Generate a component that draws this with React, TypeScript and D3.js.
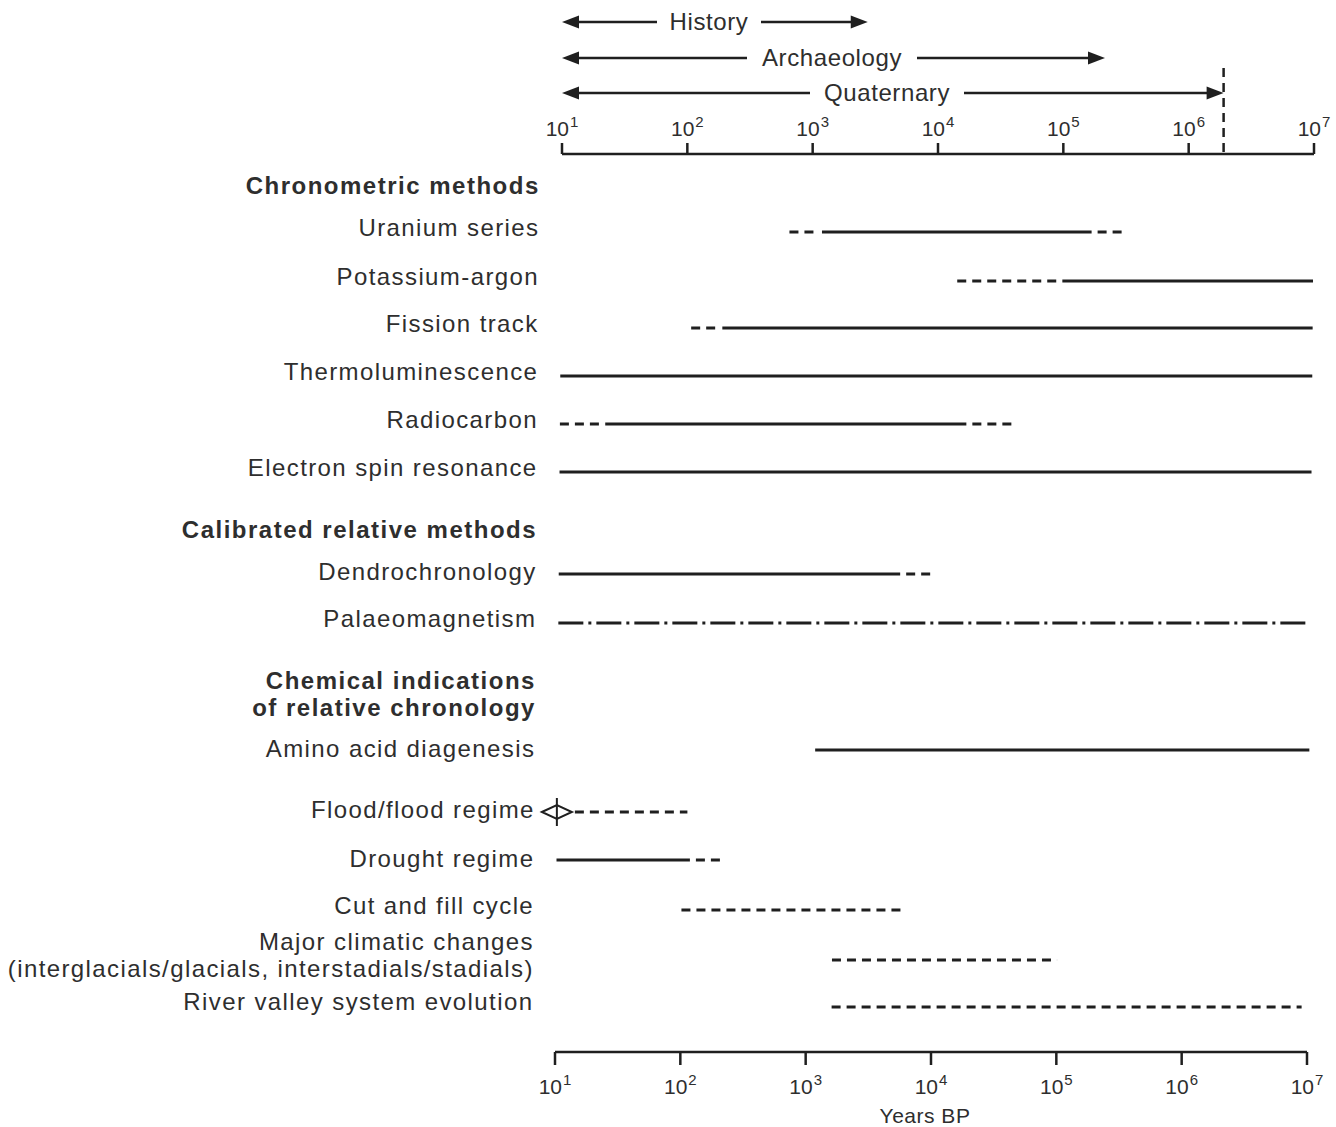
import React from "react";
import * as d3 from "d3";

// ---------- data ----------
const exponents = [1, 2, 3, 4, 5, 6, 7];
const periodNames = ["History", "Archaeology", "Quaternary"];
const periodEnds = [2750, 215000, 1.9e6];
const quaternaryStart = 1.9e6;

const groupHeaders = [
  ["Chronometric methods"],
  ["Calibrated relative methods"],
  ["Chemical indications", "of relative chronology"],
];

const methodLabels = [
  ["Uranium series"],
  ["Potassium-argon"],
  ["Fission track"],
  ["Thermoluminescence"],
  ["Radiocarbon"],
  ["Electron spin resonance"],
  ["Dendrochronology"],
  ["Palaeomagnetism"],
  ["Amino acid diagenesis"],
  ["Flood/flood regime"],
  ["Drought regime"],
  ["Cut and fill cycle"],
  ["Major climatic changes", "(interglacials/glacials, interstadials/stadials)"],
  ["River valley system evolution"],
];

// segments: [start years, end years, kind]  kind: "firm" | "tentative" | "polarity"
const methodSegments: [number, number, string][][] = [
  [[660, 1200, "tentative"], [1200, 170000, "firm"], [170000, 310000, "tentative"]],
  [[14500, 100000, "tentative"], [100000, 1e7, "firm"]],
  [[110, 195, "tentative"], [195, 1e7, "firm"]],
  [[10, 1e7, "firm"]],
  [[10, 23, "tentative"], [23, 17500, "firm"], [17500, 41000, "tentative"]],
  [[10, 1e7, "firm"]],
  [[10, 5300, "firm"], [5300, 9500, "tentative"]],
  [[10, 1e7, "polarity"]],
  [[1140, 1e7, "firm"]],
  [[10, 110, "tentative"]],
  [[10, 116, "firm"], [116, 210, "tentative"]],
  [[100, 6100, "tentative"]],
  [[1600, 100000, "tentative"]],
  [[1600, 9e6, "tentative"]],
];
const floodMarkerIndex = 9;
const axisTitle = "Years BP";

// ---------- layout ----------
const W = 1336;
const H = 1127;
const TOP_AXIS_Y = 154;
const BOTTOM_AXIS_Y = 1052;
const SKEW = -7; // slight tilt of the scanned page
const headerY = [186, 530, 681];
const methodTextY = [228, 277, 324, 372, 420, 468, 572, 619, 749, 810, 859, 906, 942, 1002];
const methodLineY = [232, 281, 328, 376, 424, 472, 574, 623, 750, 812, 860, 910, 960, 1007];
const periodY = [22, 58, 93];
const periodTextCx = [709, 832, 887];
const periodGapHalf = [52, 85, 77];

const INK = "#1f1f1f";
const TEXT = "#2e2e2e";
const FONT = "'Liberation Sans', Arial, Helvetica, sans-serif";

const skewAt = (y: number) => (SKEW * (y - TOP_AXIS_Y)) / (BOTTOM_AXIS_Y - TOP_AXIS_Y);
const rowScale = (y: number) =>
  d3.scaleLog().domain([10, 1e7]).range([562 + skewAt(y), 1314 + skewAt(y)]);
const xTop = d3.scaleLog().domain([10, 1e7]).range([562, 1314]);
const xBottom = d3.scaleLog().domain([10, 1e7]).range([555, 1307]);

const dashFor = (kind: string) =>
  kind === "firm" ? undefined : kind === "tentative" ? "9 6" : "25 5 3 5";

function Power({ x, y, e }: { x: number; y: number; e: number }) {
  return (
    <text x={x} y={y} textAnchor="middle" fontFamily={FONT} fontSize={21} fill={TEXT}>
      <tspan>10</tspan>
      <tspan fontSize={15} dx={1} dy={-9}>{e}</tspan>
    </text>
  );
}

function ArrowHead({ x, y, dir }: { x: number; y: number; dir: number }) {
  const L = 17, hw = 6.5;
  const p = d3.path();
  p.moveTo(x, y);
  p.lineTo(x - dir * L, y - hw);
  p.lineTo(x - dir * L, y + hw);
  p.closePath();
  return <path d={p.toString()} fill={INK} />;
}

export default function App() {
  const labelStyle = { letterSpacing: "1.4px" } as React.CSSProperties;
  return (
    <svg
      width={W}
      height={H}
      style={{ position: "absolute", left: 0, top: 0, background: "#fff" }}
      fontFamily={FONT}
    >
      <rect width={W} height={H} fill="#fff" />

      {/* period arrows */}
      {periodNames.map((name, i) => {
        const y = periodY[i];
        const x0 = xTop(10);
        const x1 = xTop(periodEnds[i]);
        const cx = periodTextCx[i];
        const g = periodGapHalf[i];
        return (
          <g key={name}>
            <line x1={x0 + 10} x2={cx - g} y1={y} y2={y} stroke={INK} strokeWidth={2.5} />
            <line x1={cx + g} x2={x1 - 10} y1={y} y2={y} stroke={INK} strokeWidth={2.5} />
            <ArrowHead x={x0} y={y} dir={-1} />
            <ArrowHead x={x1} y={y} dir={1} />
            <text x={cx} y={y + 8} textAnchor="middle" fontSize={24} fill={TEXT} style={{ letterSpacing: "0.6px" }}>
              {name}
            </text>
          </g>
        );
      })}
      <line
        x1={xTop(quaternaryStart)}
        x2={xTop(quaternaryStart)}
        y1={68}
        y2={TOP_AXIS_Y}
        stroke={INK}
        strokeWidth={2.5}
        strokeDasharray="9 6"
      />

      {/* top axis */}
      <line x1={xTop(10)} x2={xTop(1e7)} y1={TOP_AXIS_Y} y2={TOP_AXIS_Y} stroke={INK} strokeWidth={2.5} />
      {exponents.map((e) => (
        <g key={"t" + e}>
          <line x1={xTop(10 ** e)} x2={xTop(10 ** e)} y1={TOP_AXIS_Y} y2={TOP_AXIS_Y - 11} stroke={INK} strokeWidth={2.5} />
          <Power x={xTop(10 ** e)} y={136} e={e} />
        </g>
      ))}

      {/* group headers */}
      {groupHeaders.map((lines, i) =>
        lines.map((t, j) => (
          <text
            key={t}
            x={540 + skewAt(headerY[i])}
            y={headerY[i] + 8 + j * 27}
            textAnchor="end"
            fontSize={24}
            fontWeight="bold"
            fill={TEXT}
            style={{ letterSpacing: "1.5px" }}
          >
            {t}
          </text>
        ))
      )}

      {/* method labels */}
      {methodLabels.map((lines, i) =>
        lines.map((t, j) => (
          <text
            key={t}
            x={540 + skewAt(methodTextY[i])}
            y={methodTextY[i] + 8 + j * 27}
            textAnchor="end"
            fontSize={24}
            fill={TEXT}
            style={labelStyle}
          >
            {t}
          </text>
        ))
      )}

      {/* method ranges */}
      {methodSegments.map((segs, i) => {
        const y = methodLineY[i];
        const x = rowScale(y);
        return (
          <g key={"m" + i}>
            {segs.map(([a, b, kind], k) => {
              let xa = x(a);
              let xb = x(b);
              const prev = segs[k - 1];
              const next = segs[k + 1];
              if (i === floodMarkerIndex && k === 0) xa += 18;
              // leave a small gap where a tentative stretch meets a firm one
              if (kind !== "firm" && prev && prev[2] === "firm") xa += 6;
              if (kind !== "firm" && next && next[2] === "firm") xb -= 6;
              return (
                <line
                  key={k}
                  x1={xa}
                  x2={xb}
                  y1={y}
                  y2={y}
                  stroke={INK}
                  strokeWidth={3}
                  strokeDasharray={dashFor(kind)}
                />
              );
            })}
            {i === floodMarkerIndex && (
              <g>
                <path
                  d={`M${x(10) - 15},${y} L${x(10)},${y - 7} L${x(10) + 15},${y} L${x(10)},${y + 7} Z`}
                  fill="none"
                  stroke={INK}
                  strokeWidth={2}
                />
                <line x1={x(10)} x2={x(10)} y1={y - 14} y2={y + 14} stroke={INK} strokeWidth={2} />
              </g>
            )}
          </g>
        );
      })}

      {/* bottom axis */}
      <line x1={xBottom(10)} x2={xBottom(1e7)} y1={BOTTOM_AXIS_Y} y2={BOTTOM_AXIS_Y} stroke={INK} strokeWidth={2.5} />
      {exponents.map((e) => (
        <g key={"b" + e}>
          <line x1={xBottom(10 ** e)} x2={xBottom(10 ** e)} y1={BOTTOM_AXIS_Y} y2={BOTTOM_AXIS_Y + 13} stroke={INK} strokeWidth={2.5} />
          <Power x={xBottom(10 ** e)} y={1094} e={e} />
        </g>
      ))}
      <text x={925} y={1123} textAnchor="middle" fontSize={21} fill={TEXT} style={{ letterSpacing: "0.5px" }}>
        {axisTitle}
      </text>
    </svg>
  );
}
